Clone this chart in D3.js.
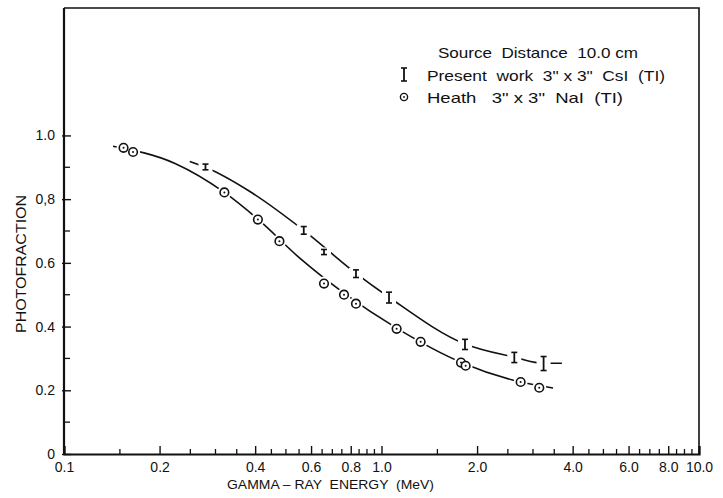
<!DOCTYPE html>
<html><head><meta charset="utf-8">
<script src="https://cdn.jsdelivr.net/npm/d3@7"></script>
<style>body{margin:0;background:#fff}svg{display:block}text{font-family:"Liberation Sans",Arial,sans-serif;fill:#111}.pre{white-space:pre}</style>
</head><body>
<script>
// ---- data ----
const heathEnergy = [0.154, 0.165, 0.320, 0.408, 0.477, 0.659, 0.762, 0.831, 1.116, 1.328, 1.780, 1.841, 2.743, 3.14];
const heathPhoto  = [0.961, 0.948, 0.821, 0.736, 0.668, 0.535, 0.500, 0.472, 0.393, 0.352, 0.287, 0.277, 0.226, 0.208];
const presentEnergy = [0.279, 0.569, 0.659, 0.831, 1.056, 1.832, 2.62, 3.24];
const presentPhoto  = [0.901, 0.702, 0.634, 0.566, 0.491, 0.344, 0.303, 0.284];
const presentErr    = [0.009, 0.012, 0.008, 0.012, 0.017, 0.016, 0.016, 0.022];
// smooth curves as drawn in the figure
const heathCurveE = [0.1427, 0.2237, 0.320, 0.408, 0.554, 0.762, 1.116, 1.806, 2.743, 3.47];
const heathCurveP = [0.966, 0.912, 0.821, 0.737, 0.614, 0.505, 0.395, 0.285, 0.226, 0.207];
const presentCurveE = [0.249, 0.279, 0.385, 0.569, 0.831, 1.056, 1.832, 2.62, 3.24, 3.70];
const presentCurveP = [0.918, 0.900, 0.824, 0.702, 0.567, 0.492, 0.345, 0.304, 0.285, 0.285];
const xTickValues = [0.1, 0.2, 0.4, 0.6, 0.8, 1, 2, 4, 6, 8, 10];
const xTickLabels = ["0.1", "0.2", "0.4", "0.6", "0.8", "1.0", "2.0", "4.0", "6.0", "8.0", "10.0"];
const yTickValues = [0, 0.2, 0.4, 0.6, 0.8, 1.0];
const yTickLabels = ["0", "0.2", "0.4", "0.6", "0,8", "1.0"];
const yMinorTicks = [0.1, 0.3, 0.5, 0.7, 0.9];
const xMinorTicks = [0.15,0.25,0.3,0.35,0.45,0.5,0.55,0.65,0.7,0.75,0.85,0.9,0.95,1.5,2.5,3,3.5,4.5,5,5.5,6.5,7,7.5,8.5,9,9.5];

const W = 723, H = 498;
const L = 64, R = 699, T = 8, B = 454;
const svg = d3.select("body").append("svg").attr("width", W).attr("height", H);
const x = d3.scaleLog().domain([0.1, 10]).range([L, R]);
const y = d3.scaleLinear().domain([0, 1.4]).range([B, T]);

// frame (top/right)
svg.append("path").attr("d", `M${L},${T}H${R}V${B}`).attr("fill","none").attr("stroke","#111").attr("stroke-width",1.6);

// axes
const xAxis = d3.axisBottom(x).tickValues(xTickValues).tickSize(-8).tickPadding(8)
  .tickFormat((d,i)=>xTickLabels[i]);
const gx = svg.append("g").attr("transform",`translate(0,${B})`).call(xAxis);
gx.select(".domain").attr("stroke-width",2.2).attr("stroke","#111");
gx.selectAll(".tick line").attr("stroke","#111").attr("stroke-width",1.4);
gx.selectAll(".tick text").attr("font-size",14).attr("fill","#111").attr("font-family","Liberation Sans, Arial, sans-serif");
gx.selectAll(".minor").data(xMinorTicks).enter().append("line")
  .attr("x1",d=>x(d)).attr("x2",d=>x(d)).attr("y1",0).attr("y2",-5)
  .attr("stroke","#111").attr("stroke-width",1.3);

const yAxis = d3.axisLeft(y).tickValues(yTickValues).tickSize(-7).tickPadding(9)
  .tickFormat((d,i)=>yTickLabels[i]);
const gy = svg.append("g").attr("transform",`translate(${L},0)`).call(yAxis);
gy.select(".domain").attr("stroke-width",2.2).attr("stroke","#111").attr("d",`M0,${B}V${T}`);
gy.selectAll(".tick line").attr("stroke","#111").attr("stroke-width",1.4).attr("x1",-2);
gy.selectAll(".tick text").attr("font-size",14).attr("fill","#111").attr("font-family","Liberation Sans, Arial, sans-serif");
gy.selectAll(".minor").data(yMinorTicks).enter().append("line")
  .attr("x1",0).attr("x2",6).attr("y1",d=>y(d)).attr("y2",d=>y(d))
  .attr("stroke","#111").attr("stroke-width",1.3);

// axis titles
svg.append("text").attr("transform",`translate(26,264) rotate(-90)`)
  .attr("text-anchor","middle").attr("font-size",14).attr("textLength",138).attr("lengthAdjust","spacingAndGlyphs")
  .text("PHOTOFRACTION");
svg.append("text").attr("class","pre").attr("x",227).attr("y",489)
  .attr("font-size",13.5).attr("textLength",207).attr("lengthAdjust","spacingAndGlyphs")
  .text("GAMMA – RAY  ENERGY  (MeV)");

// curves
const line = d3.line().x(d=>x(d[0])).y(d=>y(d[1])).curve(d3.curveMonotoneX);
const heathCurve = heathCurveE.map((e,i)=>[e, heathCurveP[i]]);
const presentCurve = presentCurveE.map((e,i)=>[e, presentCurveP[i]]);
svg.append("path").attr("d", line(heathCurve)).attr("fill","none").attr("stroke","#111").attr("stroke-width",1.6);
svg.append("path").attr("d", line(presentCurve)).attr("fill","none").attr("stroke","#111").attr("stroke-width",1.6);

// knockouts (gaps around markers)
const heath = heathEnergy.map((e,i)=>({e, p:heathPhoto[i]}));
const present = presentEnergy.map((e,i)=>({e, p:presentPhoto[i], err:presentErr[i]}));
svg.selectAll(".koh").data(heath).enter().append("circle")
  .attr("cx",d=>x(d.e)).attr("cy",d=>y(d.p)).attr("r",7).attr("fill","#fff");
svg.selectAll(".kop").data(present).enter().append("rect")
  .attr("x",d=>x(d.e)-7).attr("y",d=>y(d.p+d.err)-2).attr("width",14)
  .attr("height",d=>y(d.p-d.err)-y(d.p+d.err)+4).attr("fill","#fff");

// Heath markers
const hg = svg.selectAll(".hm").data(heath).enter().append("g")
  .attr("transform",d=>`translate(${x(d.e)},${y(d.p)})`);
hg.append("circle").attr("r",4.3).attr("fill","#fff").attr("stroke","#111").attr("stroke-width",1.6);
hg.append("circle").attr("r",1).attr("fill","#111");

// Present work markers (error bars)
const pg = svg.selectAll(".pm").data(present).enter().append("g");
pg.append("line").attr("x1",d=>x(d.e)).attr("x2",d=>x(d.e))
  .attr("y1",d=>y(d.p+d.err)).attr("y2",d=>y(d.p-d.err)).attr("stroke","#111").attr("stroke-width",1.8);
[1,-1].forEach(s=>{
  pg.append("line").attr("x1",d=>x(d.e)-3).attr("x2",d=>x(d.e)+3)
    .attr("y1",d=>y(d.p+s*d.err)).attr("y2",d=>y(d.p+s*d.err)).attr("stroke","#111").attr("stroke-width",1.6);
});

// legend
svg.append("text").attr("class","pre").attr("x",438).attr("y",58).attr("font-size",14.5)
  .attr("textLength",200).attr("lengthAdjust","spacingAndGlyphs")
  .text("Source  Distance  10.0 cm");
const lg = svg.append("g");
lg.append("line").attr("x1",404).attr("x2",404).attr("y1",68).attr("y2",81).attr("stroke","#111").attr("stroke-width",1.8);
lg.append("line").attr("x1",401).attr("x2",407).attr("y1",68).attr("y2",68).attr("stroke","#111").attr("stroke-width",1.6);
lg.append("line").attr("x1",401).attr("x2",407).attr("y1",81).attr("y2",81).attr("stroke","#111").attr("stroke-width",1.6);
lg.append("text").attr("class","pre").attr("x",427).attr("y",81).attr("font-size",14.5)
  .attr("textLength",238).attr("lengthAdjust","spacingAndGlyphs")
  .text("Present  work  3\" x 3\"  CsI  (TI)");
lg.append("circle").attr("cx",404).attr("cy",97).attr("r",3.6).attr("fill","#fff").attr("stroke","#111").attr("stroke-width",1.4);
lg.append("circle").attr("cx",404).attr("cy",97).attr("r",0.9).attr("fill","#111");
lg.append("text").attr("class","pre").attr("x",427).attr("y",103).attr("font-size",14.5)
  .attr("textLength",196).attr("lengthAdjust","spacingAndGlyphs")
  .text("Heath   3\" x 3\"  NaI  (TI)");
</script>
</body></html>
